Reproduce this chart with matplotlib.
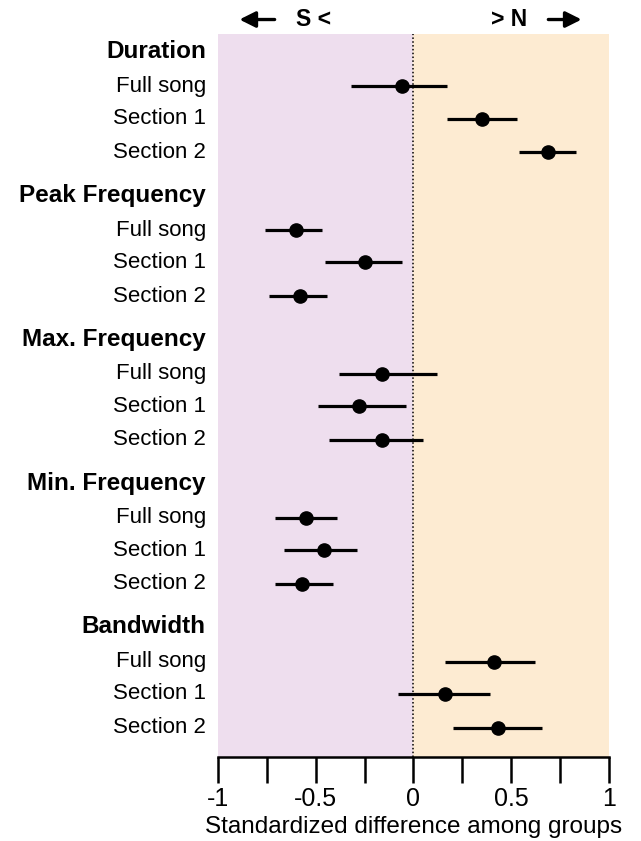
import matplotlib
matplotlib.use('Agg')
import matplotlib.pyplot as plt
import numpy as np

# data
groups = ['Duration', 'Peak Frequency', 'Max. Frequency', 'Min. Frequency', 'Bandwidth']
subsets = ['Full song', 'Section 1', 'Section 2']
means = [[-0.06, 0.35, 0.69],
         [-0.60, -0.25, -0.58],
         [-0.16, -0.28, -0.16],
         [-0.55, -0.46, -0.57],
         [0.41, 0.16, 0.43]]
lower = [[-0.32, 0.17, 0.54],
         [-0.76, -0.45, -0.74],
         [-0.38, -0.49, -0.43],
         [-0.71, -0.66, -0.71],
         [0.16, -0.08, 0.20]]
upper = [[0.17, 0.53, 0.83],
         [-0.47, -0.06, -0.44],
         [0.12, -0.04, 0.05],
         [-0.39, -0.29, -0.41],
         [0.62, 0.39, 0.66]]

plt.rcParams['font.family'] = ['Liberation Sans', 'DejaVu Sans']

fig = plt.figure(figsize=(6.41, 8.41), dpi=100)
ax = fig.add_axes([0.340, 0.100, 0.610, 0.8596])

# row layout
period = 4.36
offsets = [1.1, 2.08, 3.1]

ax.axvspan(-1, 0, color='#EEDEEE', zorder=0)
ax.axvspan(0, 1, color='#FDEBD2', zorder=0)
ax.axvline(0, color='black', lw=1.1, ls=(0, (1, 1.5)), zorder=1)

trans = ax.get_yaxis_transform()
for g, name in enumerate(groups):
    y0 = g * period + 0.05
    ax.text(-0.031, y0, name, transform=trans, ha='right', va='center',
            fontsize=17.5, fontweight='bold')
    for i, sub in enumerate(subsets):
        y = g * period + offsets[i]
        ax.text(-0.031, y, sub, transform=trans, ha='right', va='center', fontsize=16)
        ax.plot([lower[g][i], upper[g][i]], [y, y], color='black', lw=2.3,
                solid_capstyle='butt', zorder=2)
        ax.plot(means[g][i], y, 'o', color='black', markersize=9.5, zorder=3)

ax.set_xlim(-1, 1)
ax.set_ylim(4 * period + 3.08 + 0.91, -0.485)
ax.set_yticks([])
for s in ['top', 'right', 'left']:
    ax.spines[s].set_visible(False)
ax.spines['bottom'].set_linewidth(1.8)

ax.set_xticks([-1, -0.5, 0, 0.5, 1])
ax.set_xticklabels(['-1', '-0.5', '0', '0.5', '1'])
ax.set_xticks([-0.75, -0.25, 0.25, 0.75], minor=True)
ax.tick_params(axis='x', which='both', direction='out', length=19, width=1.8,
               labelsize=18, pad=3)
ax.set_xlabel('Standardized difference among groups', fontsize=17.5, labelpad=3.5)

# direction annotations above the plot
xt = ax.get_xaxis_transform()
ax.text(-0.51, 1.02, 'S <', transform=xt, ha='center', va='center',
        fontsize=16.5, fontweight='bold')
ax.text(0.49, 1.02, '> N', transform=xt, ha='center', va='center',
        fontsize=16.5, fontweight='bold')
arrow = dict(arrowstyle='-|>,head_length=0.6,head_width=0.3', lw=2.4,
             color='black', mutation_scale=16, shrinkA=0, shrinkB=0)
ax.annotate('', xy=(-0.89, 1.02), xytext=(-0.71, 1.02), xycoords=xt, arrowprops=arrow)
ax.annotate('', xy=(0.86, 1.02), xytext=(0.69, 1.02), xycoords=xt, arrowprops=arrow)

plt.savefig('out.png', dpi=100)
plt.close()
